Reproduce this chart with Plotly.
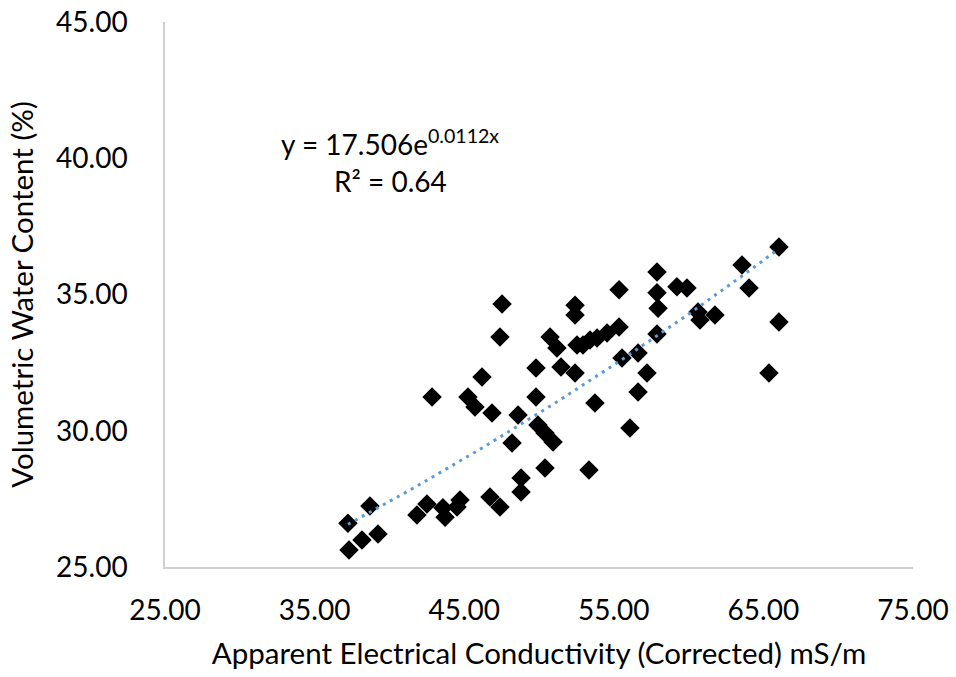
import numpy as np
import plotly.graph_objects as go

ec = [37.23, 37.30, 38.17, 38.70, 39.24, 41.84, 42.51, 42.85, 43.58, 43.72,
      44.52, 44.72, 45.25, 45.72, 46.19, 46.72, 46.86, 47.39, 47.39, 47.53,
      48.20, 48.60, 48.80, 48.80, 49.80, 49.80, 49.93, 50.40, 50.40, 50.94,
      50.74, 51.20, 51.47, 52.41, 52.41, 52.41, 52.54, 52.94, 53.41, 53.34,
      53.74, 53.88, 54.55, 55.35, 55.35, 55.55, 56.08, 56.62, 56.62, 57.22,
      57.89, 57.89, 57.96, 57.89, 59.22, 59.89, 60.63, 60.76, 61.76, 63.57,
      64.04, 66.04, 66.04, 65.37]
vwc = [26.61, 25.62, 25.99, 27.24, 26.21, 26.91, 27.31, 31.24, 27.17, 26.83,
       27.20, 27.46, 31.24, 30.87, 31.97, 27.57, 30.65, 27.20, 33.44, 34.65,
       29.55, 30.58, 28.27, 27.75, 32.30, 31.24, 30.21, 29.92, 28.63, 29.59,
       33.44, 33.04, 32.34, 34.61, 34.25, 32.12, 33.15, 33.15, 33.33, 28.56,
       31.02, 33.40, 33.59, 35.17, 33.81, 32.67, 30.10, 32.85, 31.42, 32.12,
       35.83, 35.06, 34.50, 33.55, 35.28, 35.24, 34.36, 34.06, 34.25, 36.08,
       35.24, 36.74, 33.99, 32.12]

# Fitted exponential trendline as reported on the chart
fit_a = 17.506
fit_b = 0.0112
fit_r2 = 0.64

x_ticks = [25, 35, 45, 55, 65, 75]
y_ticks = [25, 30, 35, 40, 45]

FONT = "Lato"

tx = np.linspace(min(ec), max(ec), 60)
ty = fit_a * np.exp(fit_b * tx)

fig = go.Figure()
fig.add_trace(go.Scatter(
    x=ec, y=vwc, mode="markers",
    marker=dict(symbol="diamond", size=15, color="black", line=dict(width=0)),
    showlegend=False, hoverinfo="x+y"))
fig.add_trace(go.Scatter(
    x=tx, y=ty, mode="lines",
    line=dict(color="#5B9BD5", width=3, dash="3px,5px"),
    showlegend=False, hoverinfo="skip"))

fig.add_annotation(xref="paper", yref="paper", x=0.301, y=0.778,
                   text=f"y = {fit_a:.3f}e<sup>{fit_b:.4f}x</sup>",
                   showarrow=False, font=dict(family=FONT, size=28, color="black"),
                   xanchor="center", yanchor="middle")
fig.add_annotation(xref="paper", yref="paper", x=0.301, y=0.708,
                   text=f"R² = {fit_r2:.2f}",
                   showarrow=False, font=dict(family=FONT, size=28, color="black"),
                   xanchor="center", yanchor="middle")

fig.update_layout(
    width=956, height=677,
    margin=dict(l=165, r=43, t=22, b=110),
    paper_bgcolor="white", plot_bgcolor="white",
    font=dict(family=FONT, size=28, color="black"),
    xaxis=dict(range=[25, 75], tickvals=x_ticks, tickformat=".2f",
               showgrid=False, zeroline=False, showline=True,
               linecolor="#d0d0d0", linewidth=1.5, ticks="",
               ticklabelstandoff=18, automargin=False,
               title=dict(text="Apparent Electrical Conductivity (Corrected) mS/m",
                          standoff=18, font=dict(size=29.5))),
    yaxis=dict(range=[25, 45], tickvals=y_ticks, tickformat=".2f",
               showgrid=False, zeroline=False, showline=True,
               linecolor="#d0d0d0", linewidth=1.5, ticks="",
               ticklabelstandoff=30, automargin=False,
               title=dict(text="Volumetric Water Content (%)",
                          standoff=14, font=dict(size=29.5))),
)

fig.write_html("out.html")
